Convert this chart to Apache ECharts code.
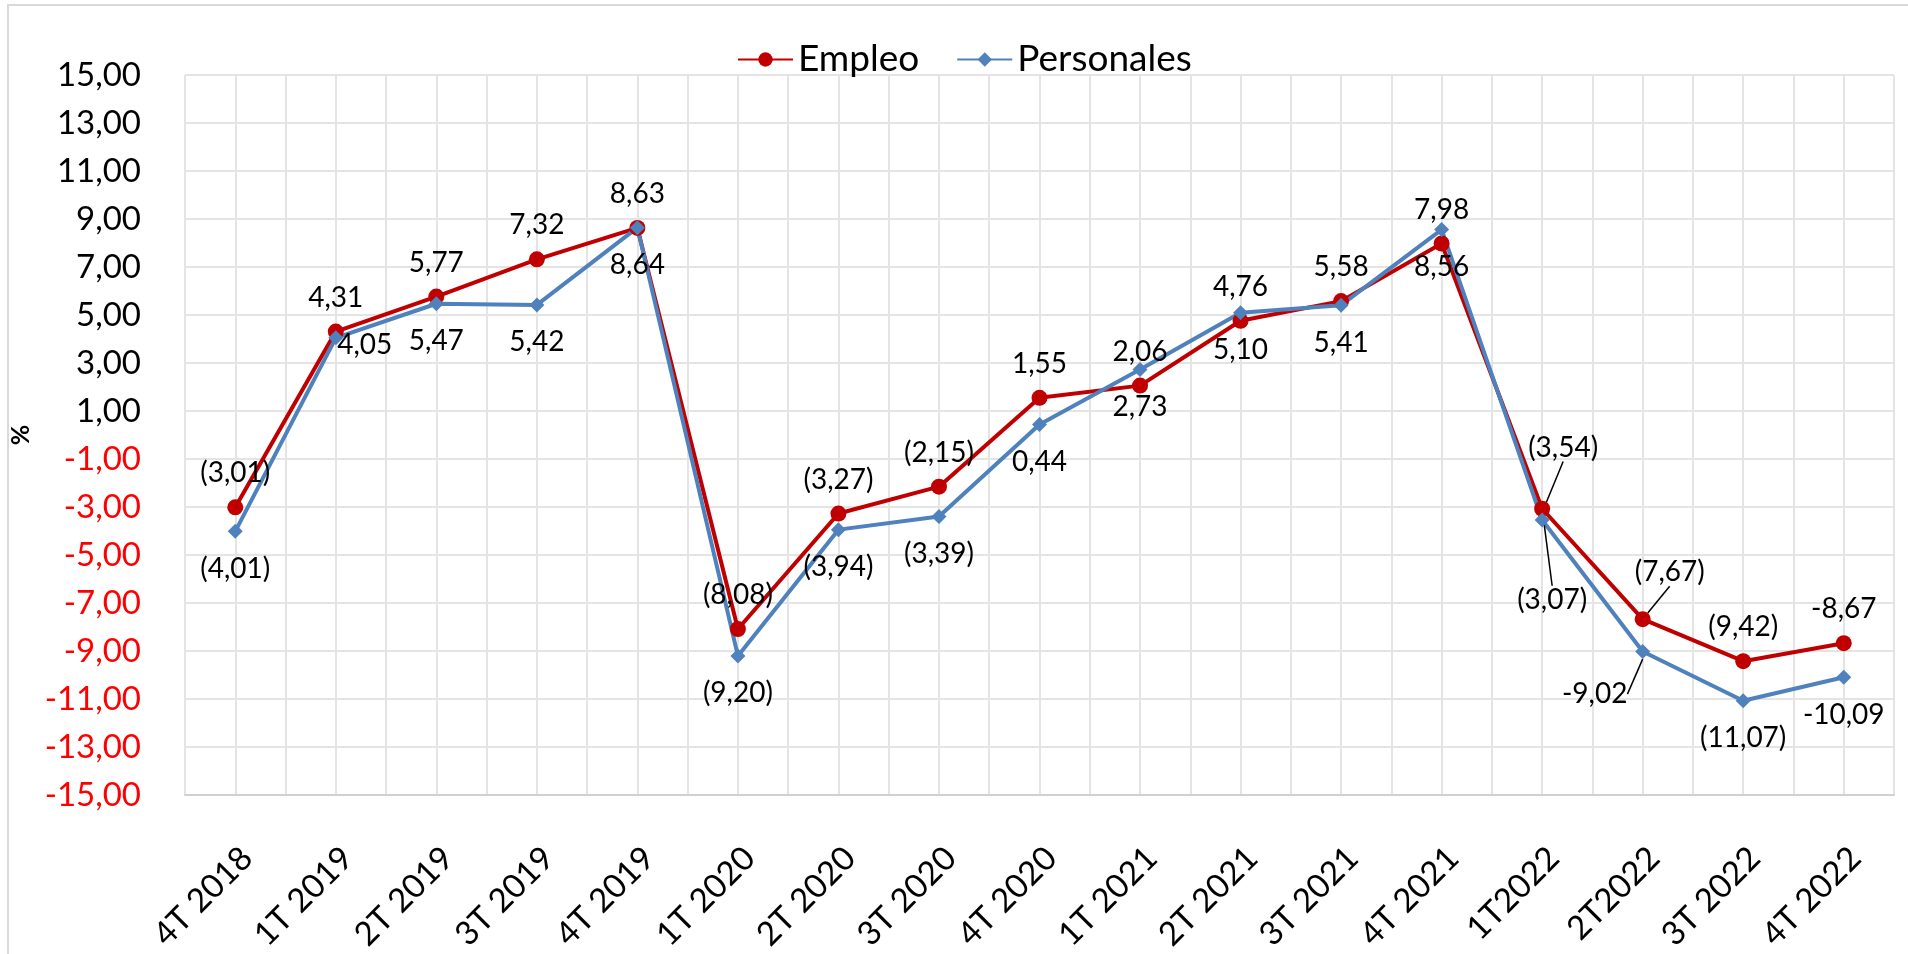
<!DOCTYPE html>
<html>
<head>
<meta charset="utf-8">
<script src="https://cdn.jsdelivr.net/npm/echarts@6/dist/echarts.min.js"></script>
<style>
  html, body { margin: 0; padding: 0; background: #fff; }
  #chart { width: 1908px; height: 954px; }
</style>
</head>
<body>
<div id="chart"></div>
<script>
  // datos
  const categories = ['4T 2018', '1T 2019', '2T 2019', '3T 2019', '4T 2019', '1T 2020', '2T 2020', '3T 2020',
    '4T 2020', '1T 2021', '2T 2021', '3T 2021', '4T 2021', '1T2022', '2T2022', '3T 2022', '4T 2022'];
  const empleo = [-3.01, 4.31, 5.77, 7.32, 8.63, -8.08, -3.27, -2.15, 1.55, 2.06, 4.76, 5.58, 7.98, -3.07, -7.67, -9.42, -8.67];
  const personales = [-4.01, 4.05, 5.47, 5.42, 8.64, -9.20, -3.94, -3.39, 0.44, 2.73, 5.10, 5.41, 8.56, -3.54, -9.02, -11.07, -10.09];
  const yMin = -15, yMax = 15, yStep = 2;

  // etiquetas negativas escritas con signo menos en vez de parentesis
  const empleoMinus = [16];
  const personalesMinus = [14, 16];
  // etiquetas con linea guia
  const empleoLeader = [13, 14];
  const personalesLeader = [13, 14];

  // desplazamientos de etiquetas (px)
  const empleoShift = { 13: [10, 125], 14: [27, -13] };
  const personalesShift = { 1: [29, -30], 13: [21, -110], 14: [-48, 5] };

  const font = 'Lato';

  function fmt(v, minus) {
    const s = Math.abs(v).toFixed(2).replace('.', ',');
    if (v >= 0) return s;
    return minus ? '-' + s : '(' + s + ')';
  }

  function items(values, leaders) {
    return values.map(function (v, i) {
      return leaders.indexOf(i) >= 0 ? { value: v, labelLine: { show: true } } : v;
    });
  }

  const myChart = echarts.init(document.getElementById('chart'));

  myChart.setOption({
    animation: false,
    backgroundColor: '#fff',
    textStyle: { fontFamily: font },
    graphic: [{
      type: 'rect',
      shape: { x: 8, y: 5, width: 1920, height: 970 },
      style: { fill: 'none', stroke: '#d9d9d9', lineWidth: 2 },
      silent: true
    }],
    legend: {
      left: 732,
      top: 36,
      itemWidth: 55,
      itemHeight: 18,
      itemGap: 37,
      textStyle: { fontSize: 37, color: '#000', fontFamily: font },
      data: ['Empleo', 'Personales']
    },
    grid: {
      left: 185,
      right: 14,
      top: 75,
      bottom: 156
    },
    xAxis: [{
      type: 'category',
      data: categories,
      boundaryGap: true,
      position: 'bottom',
      axisLine: { show: false },
      axisTick: { show: false },
      splitLine: { show: false },
      axisLabel: {
        rotate: 45,
        margin: 46,
        verticalAlign: 'top',
        fontSize: 33,
        color: '#000',
        fontFamily: font,
        interval: 0
      }
    }, {
      // rejilla vertical cada media categoria
      type: 'value',
      position: 'bottom',
      min: 0,
      max: categories.length * 2,
      interval: 1,
      axisLine: { show: true, onZero: true, lineStyle: { color: '#d0d0d0', width: 2 } },
      axisTick: { show: false },
      axisLabel: { show: false },
      splitLine: { show: true, lineStyle: { color: '#e4e4e4', width: 2 } }
    }],
    yAxis: {
      type: 'value',
      min: yMin,
      max: yMax,
      interval: 1,
      name: '%',
      nameLocation: 'middle',
      nameRotate: 90,
      nameGap: 138,
      nameTextStyle: { fontSize: 25, fontWeight: 'bold', color: '#000', fontFamily: font },
      axisLine: { show: false },
      axisTick: { show: false },
      splitLine: {
        show: true,
        lineStyle: { color: ['#e4e4e4', 'rgba(0,0,0,0)'], width: 2 }
      },
      axisLabel: {
        margin: 44,
        fontSize: 33,
        fontFamily: font,
        color: function (v) { return v < 0 ? '#ff0000' : '#000'; },
        formatter: function (v) {
          if ((v - yMin) % yStep !== 0) return '';
          return v.toFixed(2).replace('.', ',');
        }
      }
    },
    series: [{
      name: 'Empleo',
      type: 'line',
      xAxisIndex: 0,
      data: items(empleo, empleoLeader),
      symbol: 'circle',
      symbolSize: 16,
      lineStyle: { color: '#c00000', width: 4 },
      itemStyle: { color: '#c00000' },
      label: {
        show: true,
        position: 'top',
        distance: 12,
        fontSize: 28,
        color: '#000',
        fontFamily: font,
        formatter: function (p) { return fmt(p.value, empleoMinus.indexOf(p.dataIndex) >= 0); }
      },
      labelLine: { show: false, lineStyle: { color: '#000', width: 1.5 } },
      labelLayout: function (p) {
        const s = empleoShift[p.dataIndex];
        return s ? { dx: s[0], dy: s[1] } : {};
      }
    }, {
      name: 'Personales',
      type: 'line',
      xAxisIndex: 0,
      data: items(personales, personalesLeader),
      symbol: 'diamond',
      symbolSize: 15,
      lineStyle: { color: '#4f81bd', width: 4 },
      itemStyle: { color: '#4f81bd' },
      label: {
        show: true,
        position: 'bottom',
        distance: 16,
        fontSize: 28,
        color: '#000',
        fontFamily: font,
        formatter: function (p) { return fmt(p.value, personalesMinus.indexOf(p.dataIndex) >= 0); }
      },
      labelLine: { show: false, lineStyle: { color: '#000', width: 1.5 } },
      labelLayout: function (p) {
        const s = personalesShift[p.dataIndex];
        return s ? { dx: s[0], dy: s[1] } : {};
      }
    }]
  });
</script>
</body>
</html>
